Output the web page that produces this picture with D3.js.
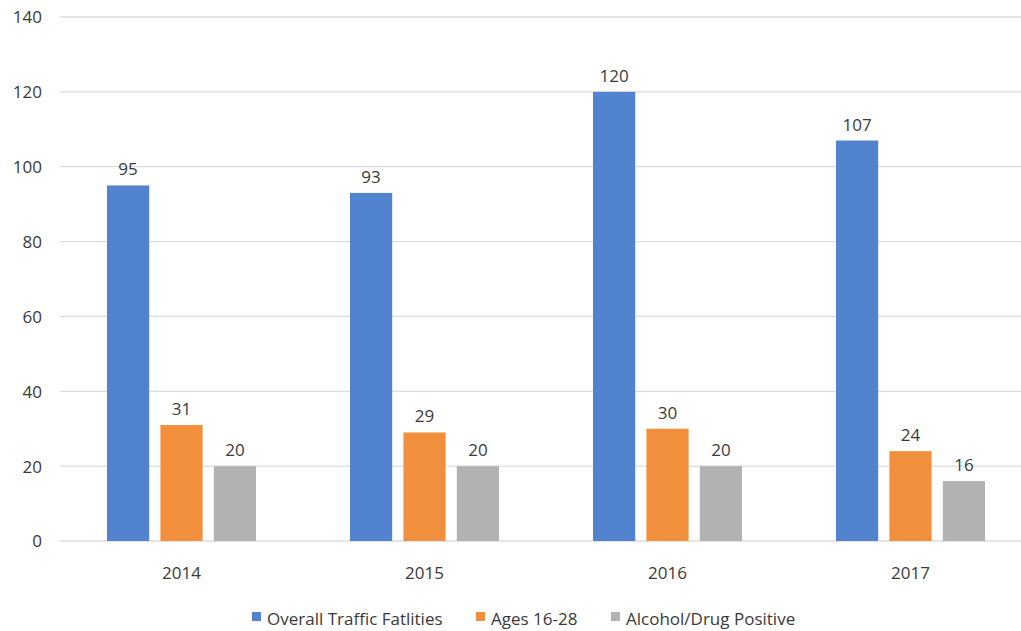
<!DOCTYPE html>
<html>
<head>
<meta charset="utf-8">
<script src="https://cdn.jsdelivr.net/npm/d3@7"></script>
<style>
  body { margin: 0; background: #fff; }
  text { font-family: "Open Sans", sans-serif; fill: #3a3a3a; }
</style>
</head>
<body>
<svg id="chart"></svg>
<script>
const width = 1021;
const height = 631;

// données
const years = ["2014", "2015", "2016", "2017"];
const seriesNames = ["Overall Traffic Fatlities", "Ages 16-28", "Alcohol/Drug Positive"];
const overall = [95, 93, 120, 107];
const ages = [31, 29, 30, 24];
const alcohol = [20, 20, 20, 16];
const yTicks = [0, 20, 40, 60, 80, 100, 120, 140];
const colors = ["#5183ce", "#f18f3d", "#b2b2b2"];

const allSeries = [overall, ages, alcohol];

const svg = d3.select("#chart")
    .attr("width", width)
    .attr("height", height);

const x0 = d3.scaleBand()
    .domain(years)
    .range([60, 1032])
    .paddingInner(0)
    .paddingOuter(0);

const groupWidth = 149;
const x1 = d3.scaleBand()
    .domain(d3.range(seriesNames.length))
    .range([0, groupWidth])
    .paddingInner(0.21);

const y = d3.scaleLinear()
    .domain([0, 140])
    .range([541, 17]);

// grille
svg.append("g")
  .selectAll("line")
  .data(yTicks)
  .join("line")
    .attr("x1", 60)
    .attr("x2", width)
    .attr("y1", d => y(d))
    .attr("y2", d => y(d))
    .attr("stroke", "#dcdcdc")
    .attr("stroke-width", 1.3);

// axe y
const yAxis = svg.append("g")
    .attr("transform", "translate(42,0)")
    .call(d3.axisLeft(y).tickValues(yTicks).tickSize(0).tickPadding(0));
yAxis.select(".domain").remove();
yAxis.selectAll("text")
    .attr("font-size", 17)
    .attr("dy", "0.35em")
    .style("font-family", "'Open Sans', sans-serif")
    .attr("fill", "#3a3a3a");

// axe x
const xAxis = svg.append("g")
    .attr("transform", "translate(0,541)")
    .call(d3.axisBottom(x0).tickSize(0).tickPadding(26));
xAxis.select(".domain").remove();
xAxis.selectAll("text")
    .attr("font-size", 17)
    .style("font-family", "'Open Sans', sans-serif")
    .attr("fill", "#3a3a3a");

// barres
const rows = years.map((yr, i) => ({ year: yr, values: allSeries.map(s => s[i]) }));

const groups = svg.append("g")
  .selectAll("g")
  .data(rows)
  .join("g")
    .attr("transform", d => `translate(${x0(d.year) + (x0.bandwidth() - groupWidth) / 2},0)`);

groups.selectAll("rect")
  .data(d => d.values.map((v, k) => ({ k, v })))
  .join("rect")
    .attr("x", d => x1(d.k))
    .attr("y", d => y(d.v))
    .attr("width", x1.bandwidth())
    .attr("height", d => y(0) - y(d.v))
    .attr("fill", d => colors[d.k]);

groups.selectAll("text.lbl")
  .data(d => d.values.map((v, k) => ({ k, v })))
  .join("text")
    .attr("class", "lbl")
    .attr("x", d => x1(d.k) + x1.bandwidth() / 2)
    .attr("y", d => y(d.v) - 10)
    .attr("text-anchor", "middle")
    .attr("font-size", 17)
    .text(d => d.v);

// légende
const legendX = [252, 476, 611];
const legend = svg.append("g")
  .selectAll("g")
  .data(seriesNames)
  .join("g")
    .attr("transform", (d, i) => `translate(${legendX[i]},619)`);

legend.append("rect")
    .attr("x", 0)
    .attr("y", -7)
    .attr("width", 9)
    .attr("height", 9)
    .attr("fill", (d, i) => colors[i]);

legend.append("text")
    .attr("x", 15)
    .attr("dy", "0.35em")
    .attr("font-size", 17)
    .text(d => d);
</script>
</body>
</html>
